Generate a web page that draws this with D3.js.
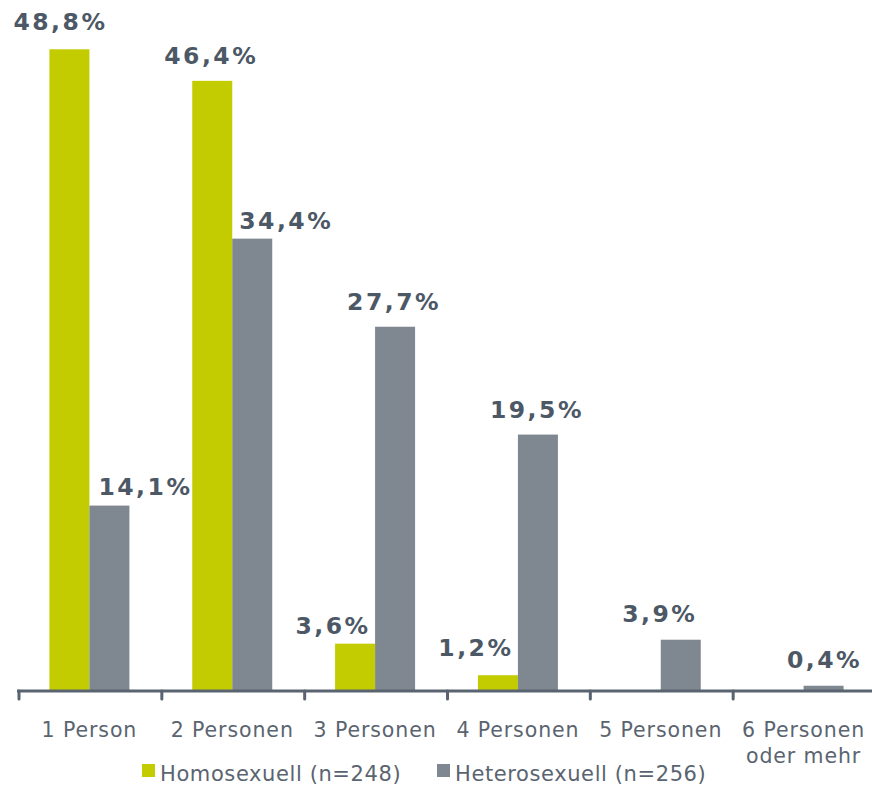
<!DOCTYPE html>
<html>
<head>
<meta charset="utf-8">
<script src="https://cdn.jsdelivr.net/npm/d3@7"></script>
<style>
  body { margin: 0; background: #fff; }
  svg { display: block; }
  text { font-family: "DejaVu Sans", Verdana, sans-serif; }
</style>
</head>
<body>
<div id="chart"></div>
<script>
// household size, homosexual vs heterosexual respondents
var categories = ["1 Person", "2 Personen", "3 Personen", "4 Personen", "5 Personen", "6 Personen\noder mehr"];
var series = ["Homosexuell (n=248)", "Heterosexuell (n=256)"];
var homo = [48.8, 46.4, 3.6, 1.2, 0, 0];
var hetero = [14.1, 34.4, 27.7, 19.5, 3.9, 0.4];

// label nudges (layout only)
var homoDx = [-9, -1, -22, -22, 0, 0];
var heteroDx = [36, 34, -1, -1, -21, 1];
var homoGap = [19, 17, 10, 19, 0, 0];
var heteroGap = [11, 10, 17, 17, 18, 18];

var width = 872, height = 785;
var baseY = 691;
var green = "#c2cc00", grey = "#7f8790", ink = "#4d5866", axisCol = "#5a6470";

var svg = d3.select("#chart").append("svg")
    .attr("width", width)
    .attr("height", height);

var x = d3.scaleBand().domain(categories).range([18, 875]).padding(0);
var sub = d3.scaleBand().domain(series).range([-40, 40]).padding(0);
var y = d3.scaleLinear().domain([0, 50]).range([baseY, baseY - 657.5]);

var rows = categories.map(function (c, i) {
  return [
    { cat: c, s: series[0], v: homo[i], dx: homoDx[i], gap: homoGap[i], color: green },
    { cat: c, s: series[1], v: hetero[i], dx: heteroDx[i], gap: heteroGap[i], color: grey }
  ];
});

var g = svg.selectAll("g.cat").data(rows).enter().append("g")
    .attr("class", "cat")
    .attr("transform", function (d) { return "translate(" + (x(d[0].cat) + x.bandwidth() / 2) + ",0)"; });

g.selectAll("rect").data(function (d) { return d.filter(function (e) { return e.v > 0; }); })
  .enter().append("rect")
    .attr("x", function (d) { return sub(d.s); })
    .attr("width", sub.bandwidth())
    .attr("y", function (d) { return y(d.v); })
    .attr("height", function (d) { return baseY - y(d.v); })
    .attr("fill", function (d) { return d.color; });

g.selectAll("text.val").data(function (d) { return d.filter(function (e) { return e.v > 0; }); })
  .enter().append("text")
    .attr("class", "val")
    .attr("x", function (d) { return sub(d.s) + sub.bandwidth() / 2 + d.dx; })
    .attr("y", function (d) { return y(d.v) - d.gap; })
    .attr("text-anchor", "middle")
    .attr("font-size", 23.5)
    .attr("font-weight", "bold")
    .attr("letter-spacing", 2.5)
    .attr("fill", ink)
    .text(function (d) { return d3.format(".1f")(d.v).replace(".", ",") + "%"; });

// axis line and boundary ticks
svg.append("line")
    .attr("x1", 17).attr("x2", width)
    .attr("y1", baseY).attr("y2", baseY)
    .attr("stroke", axisCol).attr("stroke-width", 3);

svg.selectAll("line.tick").data(categories).enter().append("line")
    .attr("class", "tick")
    .attr("x1", function (d) { return x(d) + 1; })
    .attr("x2", function (d) { return x(d) + 1; })
    .attr("y1", baseY).attr("y2", baseY + 8)
    .attr("stroke", axisCol).attr("stroke-width", 3)
    .attr("stroke-linecap", "round");

var labels = svg.selectAll("text.cat").data(categories).enter().append("text")
    .attr("class", "cat")
    .attr("x", function (d) { return x(d) + x.bandwidth() / 2; })
    .attr("y", 737)
    .attr("text-anchor", "middle")
    .attr("font-size", 20.5)
    .attr("letter-spacing", 0.9)
    .attr("fill", axisCol);

labels.selectAll("tspan").data(function (d) { return d.split("\n"); })
  .enter().append("tspan")
    .attr("x", function () { var p = this.parentNode; return p.getAttribute("x"); })
    .attr("dy", function (d, i) { return i === 0 ? 0 : 26; })
    .text(function (d) { return d; });

// legend
var legendX = [142, 437];
var legend = svg.selectAll("g.leg").data(series).enter().append("g")
    .attr("class", "leg")
    .attr("transform", function (d, i) { return "translate(" + legendX[i] + ",764)"; });

legend.append("rect")
    .attr("width", 13).attr("height", 13)
    .attr("fill", function (d, i) { return i === 0 ? green : grey; });

legend.append("text")
    .attr("x", 18).attr("y", 17)
    .attr("font-size", 21)
    .attr("letter-spacing", 0.6)
    .attr("fill", axisCol)
    .text(function (d) { return d; });
</script>
</body>
</html>
